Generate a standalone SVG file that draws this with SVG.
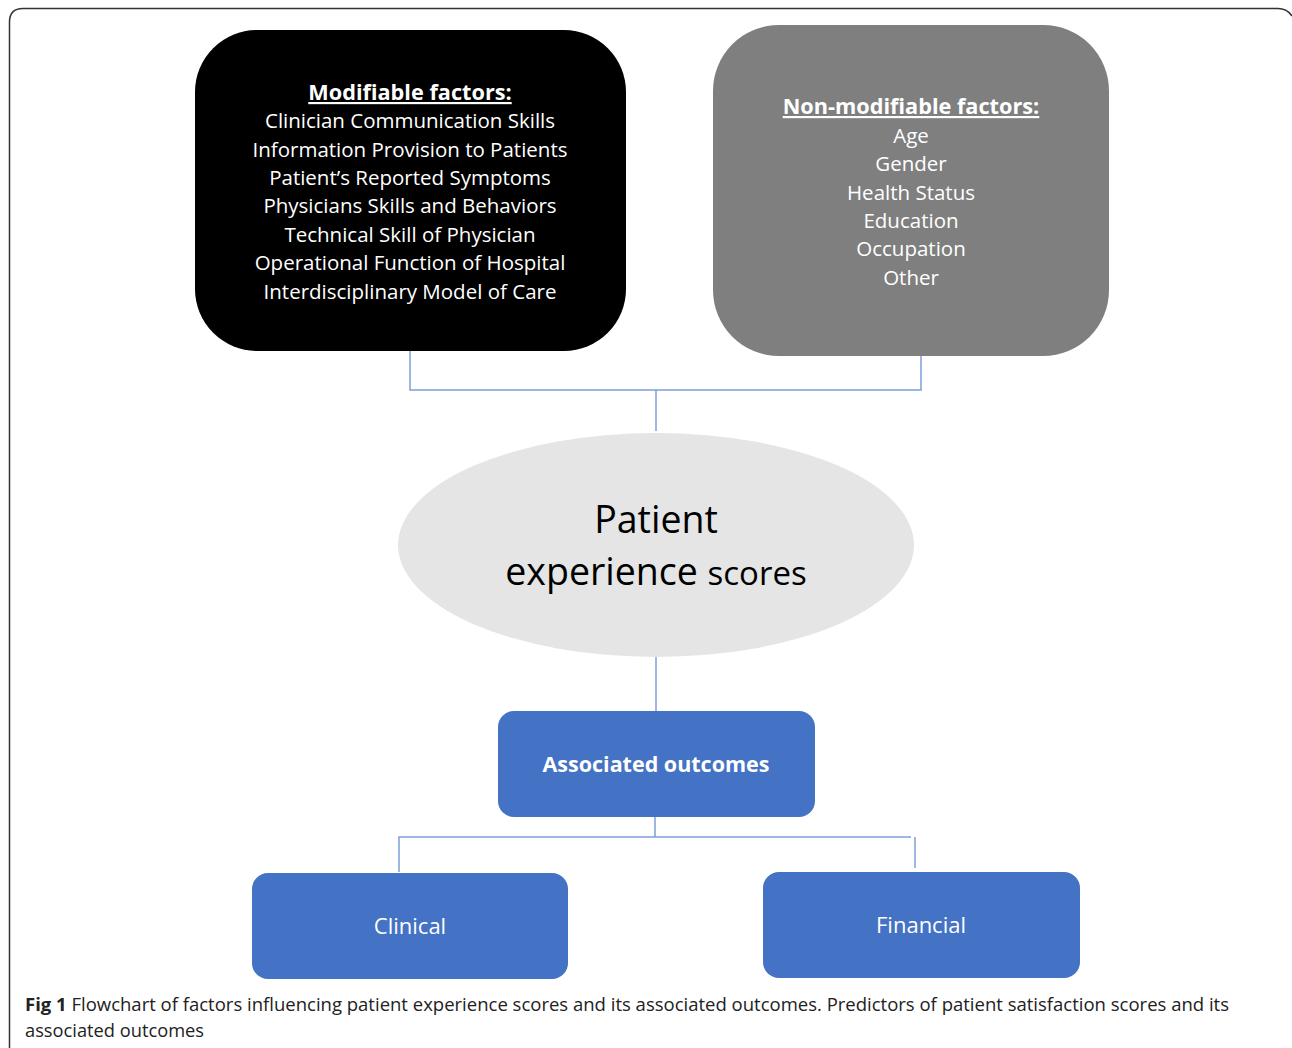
<svg xmlns="http://www.w3.org/2000/svg" width="1292" height="1048" viewBox="0 0 1292 1048">
<style>
.t{font-family:"Open Sans","Noto Sans","DejaVu Sans",sans-serif;fill:#fff;text-anchor:middle;}
.f{font-size:20.5px;}
.h{font-size:21.7px;font-weight:bold;text-decoration:underline;}
.blue{fill:#4472c4;}
.con{stroke:#7f9fd9;stroke-width:1.5;fill:none;}
.cap{font-family:"Open Sans","Noto Sans",sans-serif;font-size:18px;fill:#222;}
</style>
<rect width="1292" height="1048" fill="#fff"/>
<path d="M9.5,1060 V22 Q9.5,8.5 23,8.5 H1278 Q1287,8.5 1292,16" fill="none" stroke="#333" stroke-width="1.5"/>
<g id="connectors">
<path class="con" d="M410,349 V390 H921 V348 M656,390 V431"/>
<path class="con" d="M656,648 V711"/>
<path class="con" d="M655,817 V837 M399,872 V837 H911 M915,837 V868"/>
</g>
<g id="modifiable">
<rect x="195" y="30" width="431" height="321" rx="62" fill="#000"/>
<text class="t h" x="410" y="100">Modifiable factors:</text>
<text class="t f" x="410" y="128">Clinician Communication Skills</text>
<text class="t f" x="410" y="157">Information Provision to Patients</text>
<text class="t f" x="410" y="185">Patient’s Reported Symptoms</text>
<text class="t f" x="410" y="213">Physicians Skills and Behaviors</text>
<text class="t f" x="410" y="242">Technical Skill of Physician</text>
<text class="t f" x="410" y="270">Operational Function of Hospital</text>
<text class="t f" x="410" y="299">Interdisciplinary Model of Care</text>
</g>
<g id="nonmodifiable">
<rect x="713" y="25" width="396" height="331" rx="66" fill="#7f7f7f"/>
<text class="t h" x="911" y="114">Non-modifiable factors:</text>
<text class="t f" x="911" y="143">Age</text>
<text class="t f" x="911" y="171">Gender</text>
<text class="t f" x="911" y="200">Health Status</text>
<text class="t f" x="911" y="228">Education</text>
<text class="t f" x="911" y="256">Occupation</text>
<text class="t f" x="911" y="285">Other</text>
</g>
<g id="patient-experience">
<ellipse cx="656" cy="545" rx="258" ry="112" fill="#e5e5e5"/>
<text class="t" x="656" y="533" style="fill:#000;font-size:37.5px">Patient</text>
<text class="t" x="656" y="585" style="fill:#000;font-size:37.5px">experience <tspan style="font-size:33px">scores</tspan></text>
</g>
<g id="associated-outcomes">
<rect class="blue" x="498" y="711" width="317" height="106" rx="16"/>
<text class="t" x="656" y="772" style="font-size:21.5px;font-weight:bold">Associated outcomes</text>
</g>
<g id="clinical">
<rect class="blue" x="252" y="873" width="316" height="106" rx="16"/>
<text class="t" x="410" y="934" style="font-size:22px">Clinical</text>
</g>
<g id="financial">
<rect class="blue" x="763" y="872" width="317" height="106" rx="16"/>
<text class="t" x="921" y="933" style="font-size:22px">Financial</text>
</g>
<g id="caption">
<text class="cap" x="25" y="1011" textLength="1204" lengthAdjust="spacingAndGlyphs"><tspan font-weight="bold">Fig 1</tspan> Flowchart of factors influencing patient experience scores and its associated outcomes. Predictors of patient satisfaction scores and its</text>
<text class="cap" x="25" y="1037" textLength="179" lengthAdjust="spacingAndGlyphs">associated outcomes</text>
</g>
</svg>
